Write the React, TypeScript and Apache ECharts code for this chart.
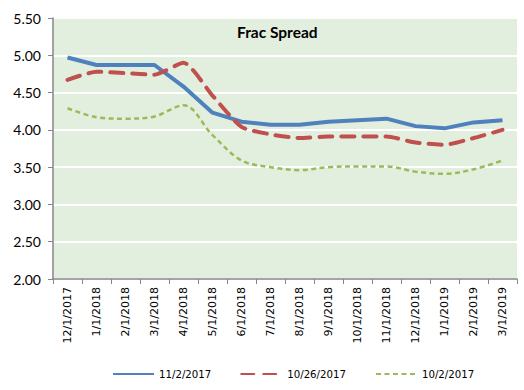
import React, { useEffect, useRef } from "react";
import * as echarts from "echarts";

const categories = [
  "12/1/2017", "1/1/2018", "2/1/2018", "3/1/2018", "4/1/2018", "5/1/2018",
  "6/1/2018", "7/1/2018", "8/1/2018", "9/1/2018", "10/1/2018", "11/1/2018",
  "12/1/2018", "1/1/2019", "2/1/2019", "3/1/2019",
];
const s1Name = "11/2/2017";
const s1 = [4.97, 4.87, 4.87, 4.87, 4.58, 4.23, 4.11, 4.07, 4.07, 4.11, 4.13, 4.15, 4.05, 4.02, 4.10, 4.13];
const s2Name = "10/26/2017";
const s2 = [4.67, 4.78, 4.76, 4.74, 4.90, 4.46, 4.04, 3.94, 3.89, 3.91, 3.91, 3.91, 3.83, 3.80, 3.89, 4.00];
const s3Name = "10/2/2017";
const s3 = [4.29, 4.17, 4.15, 4.18, 4.33, 3.93, 3.59, 3.50, 3.46, 3.50, 3.51, 3.51, 3.44, 3.41, 3.47, 3.59];

export default function App() {
  const ref = useRef<HTMLDivElement>(null);
  useEffect(() => {
    if (!ref.current) return;
    const chart = echarts.init(ref.current, null, { renderer: "svg" });
    const gray = "#868686";
    chart.setOption({
      animation: false,
      backgroundColor: "#ffffff",
      title: {
        text: "Frac Spread",
        left: 232,
        top: 19,
        textStyle: { fontFamily: "Lato", fontWeight: "bold", fontSize: 15.5, color: "#000" },
      },
      legend: {
        left: 107,
        top: 364,
        itemGap: 29,
        itemWidth: 41,
        itemHeight: 12,
        itemStyle: { opacity: 0 },
        textStyle: { fontFamily: "DejaVu Sans", fontSize: 10.2, color: "#000" },
        data: [s1Name, s2Name, s3Name],
      },
      grid: {
        left: 53,
        right: 7,
        top: 18,
        bottom: 111,
        show: true,
        backgroundColor: "#E2EFDF",
        borderWidth: 0,
      },
      xAxis: {
        type: "category",
        data: categories,
        boundaryGap: true,
        axisLine: { show: true, lineStyle: { color: gray, width: 1.5 } },
        axisTick: { show: true, interval: 0, length: 5, lineStyle: { color: gray } },
        axisLabel: {
          interval: 0,
          rotate: 90,
          margin: 8,
          fontFamily: "DejaVu Sans",
          fontSize: 11,
          color: "#000",
        },
        splitLine: { show: false },
      },
      yAxis: {
        type: "value",
        min: 2,
        max: 5.5,
        interval: 0.5,
        axisLine: { show: true, lineStyle: { color: gray, width: 1.5 } },
        axisTick: { show: true, length: 5, lineStyle: { color: gray } },
        axisLabel: {
          formatter: (v: number) => v.toFixed(2),
          fontFamily: "Lato",
          fontSize: 14,
          color: "#000",
          margin: 12,
        },
        splitLine: { show: true, lineStyle: { color: "#ffffff", width: 2 } },
      },
      series: [
        {
          name: s1Name,
          type: "line",
          data: s1,
          symbol: "none",
          lineStyle: { color: "#4F81BD", width: 4 },
          itemStyle: { color: "#4F81BD" },
        },
        {
          name: s2Name,
          type: "line",
          data: s2,
          symbol: "none",
          smooth: 0.2,
          lineStyle: { color: "#C0504D", width: 4, type: [13, 9], cap: "round" },
          itemStyle: { color: "#C0504D" },
        },
        {
          name: s3Name,
          type: "line",
          data: s3,
          symbol: "none",
          smooth: 0.35,
          lineStyle: { color: "#9BBB59", width: 2.5, type: [5, 3.5] },
          itemStyle: { color: "#9BBB59" },
        },
      ],
    });
    return () => chart.dispose();
  }, []);
  return <div ref={ref} style={{ width: 524, height: 390, position: "absolute", left: 0, top: 0 }} />;
}
